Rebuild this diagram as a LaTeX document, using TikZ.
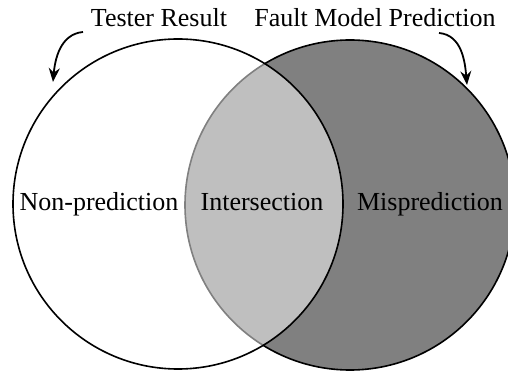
\documentclass[tikz,border=0pt]{standalone}
\usepackage{fontspec}
\setmainfont{Liberation Serif}
\usetikzlibrary{arrows.meta}

\tikzset{
  setring/.style={draw=black, line width=1.6pt},
  setlabel/.style={anchor=base, inner sep=0pt, font=\fontsize{26}{30}\selectfont},
  pointer/.style={line width=1.8pt, -{Stealth[length=14pt, width=11pt]}}
}

\begin{document}
\begin{tikzpicture}[x=1pt, y=1pt]
        \clip (0,0) rectangle (508,372);

        % the two sets
        \draw[setring, fill=gray] (350,167) circle[radius=165pt];
        \draw[setring, fill=white, fill opacity=0.5] (178,168) circle[radius=165pt];

        \node[setlabel] (tester) at (159,345) {Tester Result};
        \node[setlabel] (fault) at (375,345) {Fault Model Prediction};

        \node[setlabel] (nonpred) at (99,161) {Non-prediction};
        \node[setlabel] (inter) at (262,161) {Intersection};
        \node[setlabel] (mispred) at (430,161) {Misprediction};

        \coordinate (tester tail) at (83,340);
        \coordinate (tester tip) at (53,290);
        \coordinate (fault tail) at (439,339);
        \coordinate (fault tip) at (467,287);

        \draw[pointer] (tester tail) to[out=185, in=85] (tester tip);
        \draw[pointer] (fault tail) to[out=-5, in=95] (fault tip);
    \end{tikzpicture}
\end{document}
